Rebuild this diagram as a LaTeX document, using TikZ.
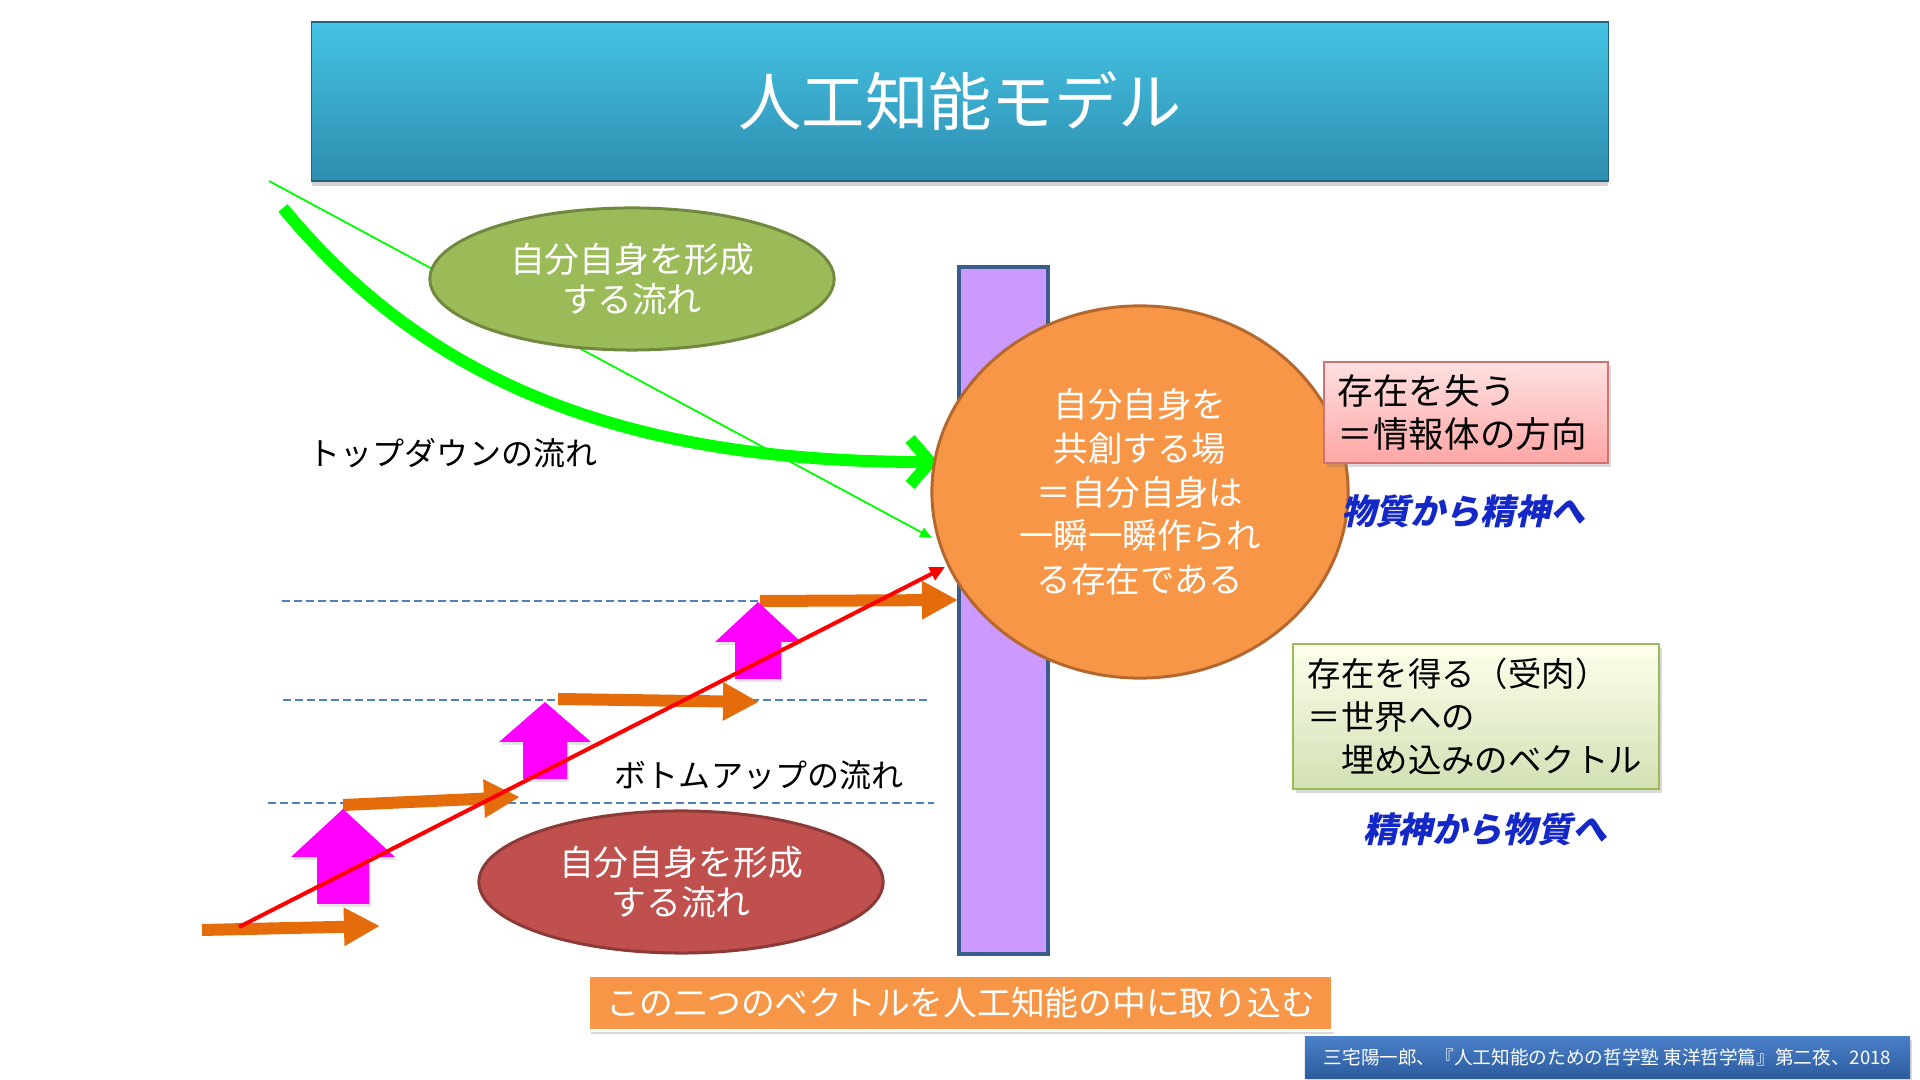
\documentclass[tikz,border=0pt]{standalone}
\usepackage{fontspec}
\setmainfont{Noto Sans CJK JP}
\newfontfamily\jpbi[FakeSlant=0.22]{Noto Sans CJK JP}
\usetikzlibrary{arrows.meta,shapes.geometric,shadows}
\definecolor{TitleTop}{HTML}{45C4E5}
\definecolor{TitleBot}{HTML}{2E8DAF}
\definecolor{BarFill}{HTML}{CC99FF}
\definecolor{BarLine}{HTML}{385D8A}
\definecolor{FieldFill}{HTML}{F79646}
\definecolor{FieldLine}{HTML}{B5682E}
\definecolor{OliveFill}{HTML}{9BBB59}
\definecolor{OliveLine}{HTML}{71893F}
\definecolor{BrickFill}{HTML}{C0504D}
\definecolor{BrickLine}{HTML}{8C3A38}
\definecolor{StepOrange}{HTML}{E46C0A}
\definecolor{LiftPink}{HTML}{FF00FF}
\definecolor{FlowGreen}{HTML}{00FF00}
\definecolor{GridBlue}{HTML}{4F81BD}
\definecolor{DirBlue}{HTML}{1428C8}
\definecolor{CiteTop}{HTML}{4A7FC9}
\definecolor{CiteBot}{HTML}{2C5C9E}
\tikzset{ttl/.style={rectangle,draw=TitleBot!70!black,top color=TitleTop,bottom color=TitleBot,minimum width=12.96cm,minimum height=1.59cm,text=white,font=\fontsize{18}{22}\selectfont,drop shadow={opacity=0.35,shadow xshift=0pt,shadow yshift=-0.05cm}},
  oval/.style={ellipse,line width=0.03cm,minimum width=4.04cm,minimum height=1.42cm,inner sep=0pt,align=center,text=white,font=\fontsize{9.9}{11.5}\selectfont},
  note/.style={rectangle,line width=0.015cm,align=left,inner xsep=0.14cm,inner ysep=0pt,font=\fontsize{10.1}{12.2}\selectfont,drop shadow={opacity=0.3,shadow xshift=0.03cm,shadow yshift=-0.04cm}},
  lbl/.style={font=\fontsize{9.1}{11}\selectfont},
  dirtxt/.style={text=DirBlue,font=\jpbi\bfseries\fontsize{9.9}{12}\selectfont},
  steparr/.style={-{Triangle[length=0.36cm,width=0.36cm]},line width=0.12cm,StepOrange},
  upblock/.style={fill=LiftPink,drop shadow={opacity=0.2,shadow xshift=0.02cm,shadow yshift=-0.03cm}},
  gridln/.style={GridBlue,line width=0.015cm,dash pattern=on 0.08cm off 0.04cm},
  tdarr/.style={-{Straight Barb[length=0.2cm,width=0.46cm]},line width=0.12cm,FlowGreen},
  thinarr/.style={-{Triangle[length=0.12cm,width=0.1cm]},line width=0.018cm,FlowGreen},
  buarr/.style={-{Triangle[length=0.15cm,width=0.14cm]},line width=0.04cm,red}}
\begin{document}
\begin{tikzpicture}[x=0.01cm,y=-0.01cm]
\useasboundingbox (0,0) rectangle (1920,1080);
\node[ttl] (title) at (960,101.5) {人工知能モデル};
% top-down side
\coordinate (thinA) at (269,181); \coordinate (thinEnd) at (932,538);
\draw[thinarr] (thinA) -- (thinEnd);
\node[oval,draw=OliveLine,fill=OliveFill] (formTop) at (632,279) {自分自身を形成\\する流れ};
\coordinate (tdA) at (283,208); \coordinate (tdEnd) at (938,462);
\draw[tdarr] (tdA) .. controls (425,380) and (620,462) .. (tdEnd);
\node[lbl] (tdlbl) at (453,453) {トップダウンの流れ};
% bottom-up side
\foreach \xa/\y/\xb in {282/601/762,283/700/931,268/803/934}
  \draw[gridln] (\xa,\y) -- (\xb,\y);
\foreach \n/\xa/\ya/\xb/\yb in {1/202/930/380/926,2/343/805/520/797,3/558/699/759/702,4/760/601/958/600}{
  \coordinate (st\n) at (\xa,\ya); \coordinate (se\n) at (\xb,\yb);
  \draw[steparr] (st\n) -- (se\n);}
\foreach \cx/\ty/\hw/\sw/\hh/\sh in {343/809/52/26/48/47,545/702/46/22/40/37,758/602/43/23/40/37}
  \fill[upblock] (\cx,\ty) -- (\cx+\hw,\ty+\hh) -- (\cx+\sw,\ty+\hh) -- (\cx+\sw,\ty+\hh+\sh)
    -- (\cx-\sw,\ty+\hh+\sh) -- (\cx-\sw,\ty+\hh) -- (\cx-\hw,\ty+\hh) -- cycle;
\coordinate (buA) at (239,927); \coordinate (buEnd) at (945,567);
\draw[buarr] (buA) -- (buEnd);
\node[lbl] (bulbl) at (759,775) {ボトムアップの流れ};
\node[oval,draw=BrickLine,fill=BrickFill] (formBot) at (681,882) {自分自身を形成\\する流れ};
% the field
\node[rectangle,draw=BarLine,fill=BarFill,line width=0.04cm,minimum width=0.88cm,minimum height=6.86cm] (bar) at (1003.5,610.5) {};
\node[ellipse,draw=FieldLine,fill=FieldFill,line width=0.03cm,minimum width=4.16cm,minimum height=3.72cm,align=center,text=white,font=\fontsize{9.8}{12.4}\selectfont] (circ) at (1140,492)
  {自分自身を\\共創する場\\＝自分自身は\\一瞬一瞬作られ\\る存在である};
% right notes
\node[note,draw=BrickFill!80,top color=red!12,bottom color=red!35,minimum width=2.84cm,minimum height=1.01cm,text width=2.56cm] (lose) at (1466,412.5) {存在を失う\\＝情報体の方向};
\node[dirtxt] (up) at (1463,511) {物質から精神へ};
\node[note,draw=OliveFill,top color=green!8!yellow!8,bottom color=OliveFill!45,minimum width=3.66cm,minimum height=1.45cm,text width=3.36cm,font=\fontsize{9.5}{12.2}\selectfont] (gain) at (1476,716.5) {存在を得る（受肉）\\＝世界への\\\hspace*{1em}埋め込みのベクトル};
\node[dirtxt] (down) at (1485,829) {精神から物質へ};
% bottom
\node[rectangle,draw=white,fill=FieldFill,line width=0.03cm,minimum width=7.43cm,minimum height=0.52cm,text=white,font=\fontsize{9.6}{11}\selectfont,drop shadow={opacity=0.3,shadow xshift=0.02cm,shadow yshift=-0.04cm}] (take) at (960.5,1003) {この二つのベクトルを人工知能の中に取り込む};
\node[rectangle,top color=CiteTop,bottom color=CiteBot,minimum width=6.05cm,minimum height=0.41cm,text=white,font=\fontsize{5.3}{6}\selectfont,drop shadow={opacity=0.3,shadow xshift=0.02cm,shadow yshift=-0.03cm}] (cite) at (1607.5,1057.5) {三宅陽一郎、『人工知能のための哲学塾 東洋哲学篇』第二夜、2018};
\end{tikzpicture}
\end{document}
